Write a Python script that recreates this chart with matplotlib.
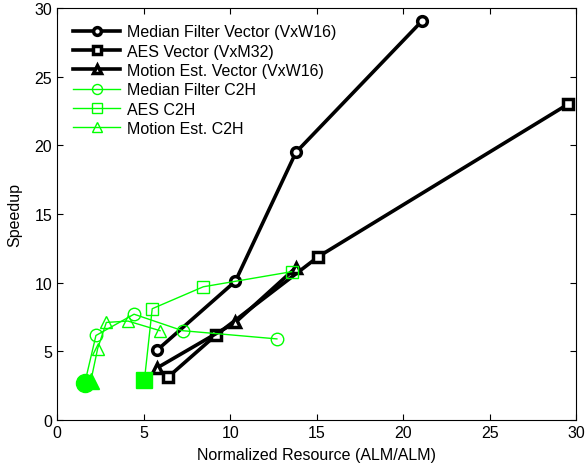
import matplotlib
matplotlib.use("Agg")
import matplotlib.pyplot as plt

plt.rcParams['font.family'] = ['Liberation Sans', 'DejaVu Sans']

# Vector series
mf_vec_x = [5.8, 10.3, 13.8, 21.1]
mf_vec_y = [5.1, 10.1, 19.5, 29.1]
aes_vec_x = [6.4, 9.2, 15.1, 29.5]
aes_vec_y = [3.1, 6.2, 11.9, 23.0]
me_vec_x = [5.8, 10.3, 13.8]
me_vec_y = [3.8, 7.1, 11.1]

# C2H series
mf_c2h_x = [1.6, 2.25, 4.45, 7.25, 12.7]
mf_c2h_y = [2.65, 6.15, 7.7, 6.5, 5.9]
aes_c2h_x = [5.05, 5.5, 8.45, 13.55]
aes_c2h_y = [2.9, 8.1, 9.7, 10.8]
me_c2h_x = [1.95, 2.35, 2.85, 4.1, 5.95]
me_c2h_y = [2.8, 5.2, 7.1, 7.2, 6.5]

labels = ["Median Filter Vector (VxW16)", "AES Vector (VxM32)",
          "Motion Est. Vector (VxW16)", "Median Filter C2H",
          "AES C2H", "Motion Est. C2H"]
xticks = [0, 5, 10, 15, 20, 25, 30]
yticks = [0, 5, 10, 15, 20, 25, 30]

green = '#00FF00'

fig = plt.figure(figsize=(5.85, 4.64), dpi=100)
ax = fig.add_axes([0.0974, 0.093, 0.888, 0.887])

blk = dict(color='black', lw=2.6, markersize=7, markeredgewidth=2.5,
           markerfacecolor='white', markeredgecolor='black')
ax.plot(mf_vec_x, mf_vec_y, marker='o', label=labels[0], **blk)
ax.plot(aes_vec_x, aes_vec_y, marker='s', label=labels[1], **blk)
ax.plot(me_vec_x, me_vec_y, marker='^', label=labels[2], **blk)

grn = dict(color=green, lw=1.0, markersize=9, markeredgewidth=1.0,
           markerfacecolor='none', markeredgecolor=green)
ax.plot(mf_c2h_x, mf_c2h_y, marker='o', label=labels[3], **grn)
ax.plot(aes_c2h_x, aes_c2h_y, marker='s', label=labels[4], **grn)
ax.plot(me_c2h_x, me_c2h_y, marker='^', label=labels[5], **grn)

# filled starting points of C2H series
ax.plot(me_c2h_x[:1], me_c2h_y[:1], marker='^', color=green, markersize=12, ls='none')
ax.plot(mf_c2h_x[:1], mf_c2h_y[:1], marker='o', color=green, markersize=13, ls='none')
ax.plot(aes_c2h_x[:1], aes_c2h_y[:1], marker='s', color=green, markersize=11, ls='none')

ax.set_xlim(0, 30)
ax.set_ylim(0, 30)
ax.set_xticks(xticks)
ax.set_yticks(yticks)
ax.tick_params(direction='in', top=True, right=True, labelsize=11.5, length=4)
ax.set_xlabel("Normalized Resource (ALM/ALM)", fontsize=11.5, labelpad=5)
ax.set_ylabel("Speedup", fontsize=11.5, labelpad=9)

leg = ax.legend(loc='upper left', frameon=False, fontsize=11.5, handlelength=2.95,
                labelspacing=0.27, handletextpad=0.44, borderaxespad=0.6,
                markerscale=0.8)

fig.savefig("out.png", dpi=100)
